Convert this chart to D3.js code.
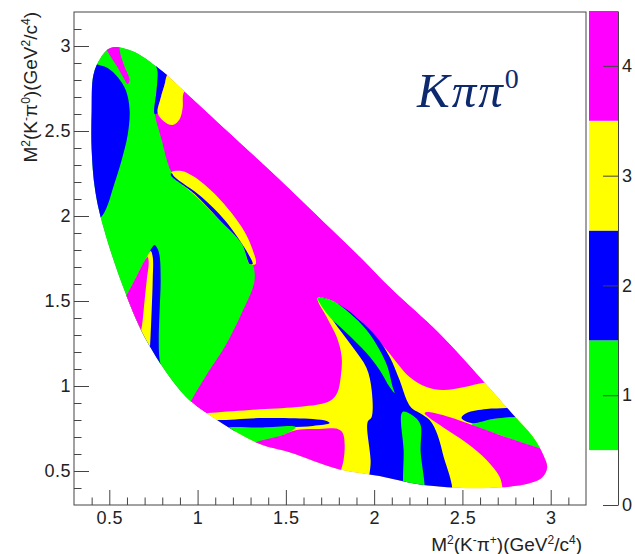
<!DOCTYPE html>
<html>
<head>
<meta charset="utf-8">
<script src="https://cdnjs.cloudflare.com/ajax/libs/d3/7.8.5/d3.min.js"></script>
<style>
  body { margin: 0; background: white; }
  text { font-family: "Liberation Sans", Arial, sans-serif; fill: #222; }
</style>
</head>
<body>
<script>
var width = 635, height = 554;

// bin number -> colour (0 = outside / empty)
var binColors = ["#ffffff", "#00ff00", "#0000ff", "#ffff00", "#ff00ff"];
var binValues = [1, 2, 3, 4];
var zTicks = [0, 1, 2, 3, 4];
var xTicks = [0.5, 1, 1.5, 2, 2.5, 3];
var yTicks = [0.5, 1, 1.5, 2, 2.5, 3];

// Dalitz boundary, [M2(K-pi+), M2(K-pi0)]
var boundary = [[0.51,2.99],[0.63,2.97],[0.79,2.86],[0.93,2.73],[1.18,2.49],[1.46,2.22],[1.72,1.96],[1.92,1.76],[2.10,1.57],[2.37,1.31],[2.61,1.04],[2.78,0.84],[2.90,0.70],[2.96,0.59],[2.98,0.52],[2.95,0.46],[2.85,0.42],[2.65,0.40],[2.50,0.40],[2.26,0.42],[2.03,0.47],[1.80,0.51],[1.52,0.61],[1.35,0.66],[1.11,0.80],[0.93,0.94],[0.72,1.25],[0.59,1.55],[0.47,1.92],[0.42,2.15],[0.40,2.39],[0.40,2.62],[0.41,2.83],[0.45,2.93]];

// bin regions (outlines may run outside the boundary, they get clipped)
var greenMain = [[0.219,3.094],[0.768,3.094],[0.768,2.918],[0.774,2.847],[0.768,2.741],[0.757,2.612],[0.797,2.447],[0.831,2.312],[0.853,2.259],[0.983,2.135],[1.114,1.994],[1.250,1.841],[1.306,1.741],[1.323,1.624],[1.250,1.429],[1.153,1.229],[1.057,1.076],[0.966,0.918],[0.927,0.847],[0.219,0.800]];
var blueLeft = [[0.389,2.947],[0.417,2.900],[0.491,2.871],[0.547,2.818],[0.593,2.741],[0.615,2.624],[0.604,2.476],[0.570,2.329],[0.530,2.194],[0.463,2.006],[0.389,1.947],[0.276,1.947],[0.276,2.947]];
var magentaTop = [[0.474,3.012],[0.547,3.012],[0.564,2.947],[0.587,2.877],[0.615,2.800],[0.604,2.776],[0.581,2.812],[0.542,2.882],[0.502,2.947]];
var blueTop = [[0.763,2.906],[0.842,2.906],[0.825,2.824],[0.814,2.776],[0.791,2.694],[0.774,2.606],[0.757,2.600],[0.768,2.741],[0.774,2.847]];
var yellowTop = [[0.825,2.824],[0.870,2.882],[0.983,2.800],[0.921,2.724],[0.916,2.641],[0.899,2.571],[0.859,2.535],[0.814,2.553],[0.774,2.606],[0.791,2.694],[0.814,2.776]];
var yellowDiag = [[0.853,2.259],[0.910,2.265],[0.983,2.229],[1.114,2.112],[1.250,1.935],[1.306,1.818],[1.329,1.718],[1.295,1.718],[1.250,1.835],[1.114,1.988],[0.983,2.124],[0.853,2.241]];
var blueDiag = [[0.853,2.253],[0.870,2.229],[1.023,2.112],[1.153,1.976],[1.284,1.782],[1.312,1.718],[1.295,1.718],[1.250,1.835],[1.114,1.988],[0.983,2.129],[0.848,2.241]];
var blueSpike = [[0.757,1.829],[0.774,1.806],[0.785,1.765],[0.791,1.624],[0.785,1.447],[0.780,1.271],[0.785,1.153],[0.814,1.006],[0.559,1.006],[0.502,1.388],[0.598,1.535],[0.717,1.765],[0.740,1.812]];
var yellowSpike = [[0.734,1.794],[0.746,1.759],[0.746,1.624],[0.740,1.447],[0.734,1.300],[0.729,1.212],[0.717,1.094],[0.502,1.094],[0.502,1.388],[0.598,1.535],[0.712,1.759]];
var magentaSpike = [[0.717,1.759],[0.723,1.729],[0.712,1.624],[0.700,1.506],[0.689,1.388],[0.678,1.312],[0.661,1.241],[0.502,1.241],[0.502,1.388],[0.598,1.535],[0.706,1.747]];
var yellowLow = [[0.983,0.835],[1.057,0.841],[1.295,0.859],[1.561,0.876],[1.720,0.900],[1.765,0.924],[1.793,0.965],[1.810,1.047],[1.816,1.171],[1.788,1.288],[1.731,1.406],[1.680,1.518],[1.765,1.500],[1.861,1.429],[1.918,1.388],[2.071,1.212],[2.201,1.053],[2.297,0.994],[2.388,0.976],[2.512,0.994],[2.614,1.018],[2.682,1.018],[2.937,0.800],[3.107,0.506],[2.824,0.329],[1.012,0.329]];
var blueLowBand = [[1.040,0.806],[1.108,0.800],[1.369,0.812],[1.652,0.806],[1.731,0.794],[1.748,0.782],[1.652,0.765],[1.369,0.753],[1.153,0.729],[1.040,0.729]];
var greenLowWedge = [[1.153,0.747],[1.369,0.756],[1.555,0.759],[1.533,0.735],[1.408,0.682],[1.295,0.635]];
var magentaLow = [[1.295,0.647],[1.335,0.671],[1.465,0.706],[1.561,0.741],[1.691,0.747],[1.793,0.747],[1.822,0.724],[1.833,0.653],[1.827,0.565],[1.805,0.476],[1.776,0.329],[1.295,0.329]];
var blueY = [[1.691,1.518],[1.765,1.388],[1.878,1.229],[1.957,1.106],[1.986,0.976],[1.986,0.818],[1.963,0.788],[1.980,0.565],[1.986,0.329],[2.430,0.329],[2.388,0.606],[2.348,0.741],[2.314,0.800],[2.258,0.841],[2.212,0.871],[2.184,0.918],[2.144,1.035],[2.088,1.171],[2.014,1.288],[1.918,1.388],[1.805,1.476]];
var greenWedge = [[1.680,1.518],[1.765,1.500],[1.861,1.429],[1.957,1.329],[2.031,1.212],[2.076,1.112],[2.105,0.994],[2.116,0.959],[2.088,0.994],[2.031,1.094],[1.957,1.194],[1.844,1.312],[1.748,1.406],[1.691,1.488]];
var greenBand = [[2.161,0.847],[2.229,0.818],[2.263,0.771],[2.263,0.624],[2.275,0.329],[2.184,0.329],[2.167,0.624]];
var greenRight = [[2.552,0.782],[2.671,0.806],[2.807,0.818],[2.937,0.812],[3.050,0.624],[2.937,0.635],[2.711,0.712],[2.558,0.771]];
var blueRight = [[2.495,0.812],[2.524,0.841],[2.637,0.865],[2.750,0.871],[2.880,0.888],[2.937,0.812],[2.807,0.818],[2.671,0.806],[2.552,0.782]];
var magentaRight = [[2.286,0.841],[2.297,0.847],[2.388,0.829],[2.524,0.782],[2.711,0.712],[2.937,0.635],[3.107,0.600],[3.107,0.329],[2.728,0.329],[2.728,0.388],[2.711,0.465],[2.637,0.565],[2.524,0.665],[2.388,0.759],[2.297,0.826]];

// drawing order: later ones sit on top
var regions = [
  {bin: 4, pts: boundary},
  {bin: 1, pts: greenMain},
  {bin: 2, pts: blueLeft},
  {bin: 4, pts: magentaTop},
  {bin: 2, pts: blueTop},
  {bin: 3, pts: yellowTop},
  {bin: 3, pts: yellowDiag},
  {bin: 2, pts: blueDiag},
  {bin: 2, pts: blueSpike},
  {bin: 3, pts: yellowSpike},
  {bin: 4, pts: magentaSpike},
  {bin: 3, pts: yellowLow},
  {bin: 2, pts: blueLowBand},
  {bin: 1, pts: greenLowWedge},
  {bin: 4, pts: magentaLow},
  {bin: 2, pts: blueY},
  {bin: 1, pts: greenWedge},
  {bin: 1, pts: greenBand},
  {bin: 1, pts: greenRight},
  {bin: 2, pts: blueRight},
  {bin: 4, pts: magentaRight}
];

var pLeft = 74, pRight = 586, pTop = 12, pBottom = 505;

var xScale = d3.scaleLinear().domain([0.3, 3.2]).range([pLeft, pRight]);
var yScale = d3.scaleLinear().domain([0.3, 3.2]).range([pBottom, pTop]);
var zScale = d3.scaleLinear().domain([0, 4.5]).range([pBottom, 11]);

var svg = d3.select("body").append("svg")
  .attr("width", width)
  .attr("height", height);

var line = d3.line()
  .x(function(d) { return xScale(d[0]); })
  .y(function(d) { return yScale(d[1]); })
  .curve(d3.curveCatmullRomClosed.alpha(0.5));

svg.append("clipPath").attr("id", "dalitz")
  .append("path").attr("d", line(boundary));

svg.append("g")
  .attr("clip-path", "url(#dalitz)")
  .selectAll("path")
  .data(regions)
  .enter().append("path")
  .attr("d", function(d) { return line(d.pts); })
  .attr("fill", function(d) { return binColors[d.bin]; });

// frame
svg.append("rect")
  .attr("x", pLeft).attr("y", pTop)
  .attr("width", pRight - pLeft).attr("height", pBottom - pTop)
  .attr("fill", "none").attr("stroke", "#444").attr("stroke-width", 1);

var minor = d3.range(4, 32).filter(function(i) { return i % 5 != 0; }).map(function(i) { return i / 10; });

function styleAxis(g) {
  g.select(".domain").remove();
  g.selectAll("line").attr("stroke", "#444");
  g.selectAll("text").style("font-size", "18px").style("letter-spacing", "0.5px").attr("fill", "#222");
}

svg.append("g").attr("transform", "translate(0," + pBottom + ")")
  .call(d3.axisBottom(xScale).tickValues(minor).tickSize(-7.5).tickFormat(""))
  .call(styleAxis);
svg.append("g").attr("transform", "translate(0," + pBottom + ")")
  .call(d3.axisBottom(xScale).tickValues(xTicks).tickSize(-15).tickPadding(6).tickFormat(d3.format("")))
  .call(styleAxis);

svg.append("g").attr("transform", "translate(" + pLeft + ",0)")
  .call(d3.axisLeft(yScale).tickValues(minor).tickSize(-7.5).tickFormat(""))
  .call(styleAxis);
svg.append("g").attr("transform", "translate(" + pLeft + ",0)")
  .call(d3.axisLeft(yScale).tickValues(yTicks).tickSize(-15).tickPadding(3).tickFormat(d3.format("")))
  .call(styleAxis);

// axis titles: [text, superscript?]
function title(sel, parts) {
  var up = false;
  parts.forEach(function(p) {
    var sup = !!p[1];
    sel.append("tspan")
      .attr("dy", sup === up ? null : (sup ? -7.5 : 7.5))
      .style("font-size", sup ? "12px" : "19px")
      .text(p[0]);
    up = sup;
  });
}
var xt = svg.append("text").attr("x", 582).attr("y", 551).attr("text-anchor", "end");
title(xt, [["M"], ["2", 1], ["(K"], ["-", 1], ["π"], ["+", 1], [")(GeV"], ["2", 1], ["/c"], ["4", 1], [")"]]);

var yt = svg.append("text").attr("text-anchor", "end")
  .attr("transform", "translate(37," + pTop + ") rotate(-90)");
title(yt, [["M"], ["2", 1], ["(K"], ["-", 1], ["π"], ["0", 1], [")(GeV"], ["2", 1], ["/c"], ["4", 1], [")"]]);

// colour bar
var barX = 589, barW = 29;
svg.append("g").selectAll("rect")
  .data(binValues)
  .enter().append("rect")
  .attr("x", barX)
  .attr("y", function(d) { return zScale(d + 0.5); })
  .attr("width", barW)
  .attr("height", function(d) { return zScale(d - 0.5) - zScale(d + 0.5); })
  .attr("fill", function(d) { return binColors[d]; });

var zAxis = svg.append("g").attr("transform", "translate(" + (barX + barW) + ",0)")
  .call(d3.axisRight(zScale).tickValues(zTicks).tickSize(-15).tickSizeOuter(0).tickPadding(4).tickFormat(d3.format("d")));
zAxis.select(".domain").attr("stroke", "#444");
zAxis.selectAll("line").attr("stroke", "#444");
zAxis.selectAll("text").style("font-size", "18px").attr("fill", "#222");

// channel label
var lab = svg.append("text").attr("x", 417).attr("y", 107)
  .style("font-family", "'Liberation Serif', 'DejaVu Serif', serif")
  .style("fill", "#0d2a6e");
lab.append("tspan").style("font-size", "49px").style("font-style", "italic").style("letter-spacing", "2px").text("Kππ");
lab.append("tspan").attr("dy", "-19").style("font-size", "28px").text("0");
</script>
</body>
</html>
